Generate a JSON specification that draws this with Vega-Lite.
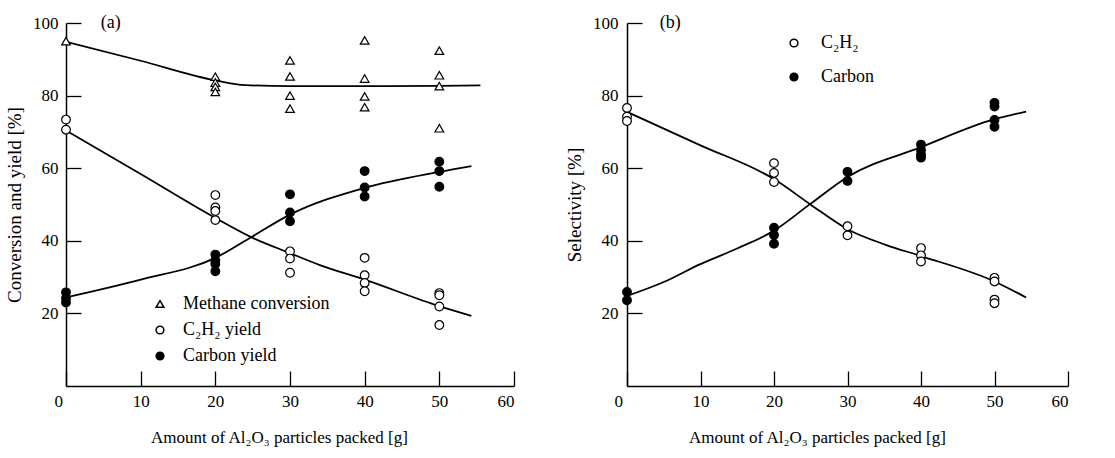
{
  "$schema": "https://vega.github.io/schema/vega-lite/v6.json",
  "background": "white",
  "padding": {"left": 5, "top": 14, "right": 5, "bottom": 5},
  "spacing": 50,
  "config": {
    "view": {"stroke": null},
    "font": "Liberation Serif",
    "axis": {
      "grid": false,
      "domainColor": "black",
      "domainWidth": 1.5,
      "tickColor": "black",
      "tickWidth": 1.3,
      "labelColor": "black",
      "titleColor": "black",
      "labelFont": "Liberation Serif",
      "titleFont": "Liberation Serif",
      "labelFontSize": 17,
      "titleFontSize": 17,
      "titleFontWeight": "normal"
    },
    "legend": {
      "labelFont": "Liberation Serif",
      "labelFontSize": 18,
      "labelColor": "black"
    }
  },
  "datasets": {
    "pointsA": [
      {"x": 0, "y": 95.0, "series": "Methane conversion"},
      {"x": 20, "y": 85.2, "series": "Methane conversion"},
      {"x": 20, "y": 83.6, "series": "Methane conversion"},
      {"x": 20, "y": 82.4, "series": "Methane conversion"},
      {"x": 20, "y": 81.0, "series": "Methane conversion"},
      {"x": 30, "y": 89.7, "series": "Methane conversion"},
      {"x": 30, "y": 85.3, "series": "Methane conversion"},
      {"x": 30, "y": 80.0, "series": "Methane conversion"},
      {"x": 30, "y": 76.4, "series": "Methane conversion"},
      {"x": 40, "y": 95.2, "series": "Methane conversion"},
      {"x": 40, "y": 84.7, "series": "Methane conversion"},
      {"x": 40, "y": 79.8, "series": "Methane conversion"},
      {"x": 40, "y": 76.8, "series": "Methane conversion"},
      {"x": 50, "y": 92.4, "series": "Methane conversion"},
      {"x": 50, "y": 85.6, "series": "Methane conversion"},
      {"x": 50, "y": 82.6, "series": "Methane conversion"},
      {"x": 50, "y": 71.0, "series": "Methane conversion"},
      {"x": 0, "y": 73.4, "series": "C₂H₂ yield"},
      {"x": 0, "y": 70.6, "series": "C₂H₂ yield"},
      {"x": 20, "y": 52.6, "series": "C₂H₂ yield"},
      {"x": 20, "y": 49.2, "series": "C₂H₂ yield"},
      {"x": 20, "y": 48.2, "series": "C₂H₂ yield"},
      {"x": 20, "y": 45.7, "series": "C₂H₂ yield"},
      {"x": 30, "y": 37.1, "series": "C₂H₂ yield"},
      {"x": 30, "y": 35.1, "series": "C₂H₂ yield"},
      {"x": 30, "y": 31.2, "series": "C₂H₂ yield"},
      {"x": 40, "y": 35.3, "series": "C₂H₂ yield"},
      {"x": 40, "y": 30.5, "series": "C₂H₂ yield"},
      {"x": 40, "y": 28.4, "series": "C₂H₂ yield"},
      {"x": 40, "y": 26.1, "series": "C₂H₂ yield"},
      {"x": 50, "y": 25.6, "series": "C₂H₂ yield"},
      {"x": 50, "y": 25.0, "series": "C₂H₂ yield"},
      {"x": 50, "y": 21.9, "series": "C₂H₂ yield"},
      {"x": 50, "y": 16.8, "series": "C₂H₂ yield"},
      {"x": 0, "y": 25.8, "series": "Carbon yield"},
      {"x": 0, "y": 24.2, "series": "Carbon yield"},
      {"x": 0, "y": 23.0, "series": "Carbon yield"},
      {"x": 20, "y": 36.2, "series": "Carbon yield"},
      {"x": 20, "y": 34.6, "series": "Carbon yield"},
      {"x": 20, "y": 33.6, "series": "Carbon yield"},
      {"x": 20, "y": 31.6, "series": "Carbon yield"},
      {"x": 30, "y": 52.8, "series": "Carbon yield"},
      {"x": 30, "y": 47.8, "series": "Carbon yield"},
      {"x": 30, "y": 45.4, "series": "Carbon yield"},
      {"x": 40, "y": 59.2, "series": "Carbon yield"},
      {"x": 40, "y": 54.7, "series": "Carbon yield"},
      {"x": 40, "y": 52.2, "series": "Carbon yield"},
      {"x": 50, "y": 61.8, "series": "Carbon yield"},
      {"x": 50, "y": 59.2, "series": "Carbon yield"},
      {"x": 50, "y": 54.9, "series": "Carbon yield"}
    ],
    "curvesA": [
      {"x": 0, "y": 94.8, "curve": "m"},
      {"x": 10, "y": 89.6, "curve": "m"},
      {"x": 20, "y": 84.2, "curve": "m"},
      {"x": 24, "y": 82.9, "curve": "m"},
      {"x": 30, "y": 82.6, "curve": "m"},
      {"x": 40, "y": 82.6, "curve": "m"},
      {"x": 50, "y": 82.7, "curve": "m"},
      {"x": 55.5, "y": 82.8, "curve": "m"},
      {"x": 0, "y": 70.4, "curve": "c"},
      {"x": 10, "y": 58.4, "curve": "c"},
      {"x": 20, "y": 46.3, "curve": "c"},
      {"x": 24.8, "y": 41.0, "curve": "c"},
      {"x": 30, "y": 36.6, "curve": "c"},
      {"x": 34, "y": 33.3, "curve": "c"},
      {"x": 40, "y": 29.3, "curve": "c"},
      {"x": 50, "y": 22.0, "curve": "c"},
      {"x": 54.3, "y": 19.3, "curve": "c"},
      {"x": 0, "y": 24.4, "curve": "k"},
      {"x": 10, "y": 29.3, "curve": "k"},
      {"x": 20, "y": 35.3, "curve": "k"},
      {"x": 24.8, "y": 41.0, "curve": "k"},
      {"x": 30, "y": 47.2, "curve": "k"},
      {"x": 40, "y": 54.6, "curve": "k"},
      {"x": 50, "y": 59.0, "curve": "k"},
      {"x": 54.3, "y": 60.6, "curve": "k"}
    ],
    "pointsB": [
      {"x": 0, "y": 76.6, "series": "C₂H₂"},
      {"x": 0, "y": 74.2, "series": "C₂H₂"},
      {"x": 0, "y": 73.0, "series": "C₂H₂"},
      {"x": 20, "y": 61.4, "series": "C₂H₂"},
      {"x": 20, "y": 58.7, "series": "C₂H₂"},
      {"x": 20, "y": 56.2, "series": "C₂H₂"},
      {"x": 30, "y": 44.0, "series": "C₂H₂"},
      {"x": 30, "y": 41.5, "series": "C₂H₂"},
      {"x": 40, "y": 38.0, "series": "C₂H₂"},
      {"x": 40, "y": 36.0, "series": "C₂H₂"},
      {"x": 40, "y": 34.3, "series": "C₂H₂"},
      {"x": 50, "y": 29.8, "series": "C₂H₂"},
      {"x": 50, "y": 28.8, "series": "C₂H₂"},
      {"x": 50, "y": 23.8, "series": "C₂H₂"},
      {"x": 50, "y": 22.8, "series": "C₂H₂"},
      {"x": 0, "y": 25.9, "series": "Carbon"},
      {"x": 0, "y": 23.6, "series": "Carbon"},
      {"x": 20, "y": 43.6, "series": "Carbon"},
      {"x": 20, "y": 41.6, "series": "Carbon"},
      {"x": 20, "y": 39.2, "series": "Carbon"},
      {"x": 30, "y": 59.0, "series": "Carbon"},
      {"x": 30, "y": 56.5, "series": "Carbon"},
      {"x": 40, "y": 66.5, "series": "Carbon"},
      {"x": 40, "y": 65.0, "series": "Carbon"},
      {"x": 40, "y": 63.8, "series": "Carbon"},
      {"x": 40, "y": 62.9, "series": "Carbon"},
      {"x": 50, "y": 78.0, "series": "Carbon"},
      {"x": 50, "y": 77.0, "series": "Carbon"},
      {"x": 50, "y": 73.3, "series": "Carbon"},
      {"x": 50, "y": 71.4, "series": "Carbon"}
    ],
    "curvesB": [
      {"x": 0, "y": 75.5, "curve": "c"},
      {"x": 10, "y": 66.3, "curve": "c"},
      {"x": 20, "y": 57.0, "curve": "c"},
      {"x": 24.9, "y": 50.1, "curve": "c"},
      {"x": 30, "y": 43.2, "curve": "c"},
      {"x": 35.2, "y": 38.9, "curve": "c"},
      {"x": 40, "y": 35.8, "curve": "c"},
      {"x": 50, "y": 28.8, "curve": "c"},
      {"x": 54.3, "y": 24.4, "curve": "c"},
      {"x": 0, "y": 24.8, "curve": "k"},
      {"x": 5.4, "y": 29.0, "curve": "k"},
      {"x": 9.9, "y": 33.5, "curve": "k"},
      {"x": 14.9, "y": 37.8, "curve": "k"},
      {"x": 20, "y": 42.8, "curve": "k"},
      {"x": 24.9, "y": 50.1, "curve": "k"},
      {"x": 30, "y": 57.6, "curve": "k"},
      {"x": 40, "y": 65.8, "curve": "k"},
      {"x": 50, "y": 73.5, "curve": "k"},
      {"x": 54.3, "y": 75.6, "curve": "k"}
    ],
    "labelA": [{"x": 6.0, "y": 100, "label": "(a)"}],
    "labelB": [{"x": 5.9, "y": 100, "label": "(b)"}]
  },
  "resolve": {
    "scale": {"shape": "independent", "fill": "independent", "x": "independent", "y": "independent"},
    "legend": {"shape": "independent", "fill": "independent"}
  },
  "hconcat": [
    {
      "width": 448,
      "height": 363,
      "layer": [
        {
          "data": {"name": "curvesA"},
          "mark": {"type": "line", "color": "black", "strokeWidth": 1.8, "interpolate": "monotone"},
          "encoding": {
            "x": {"field": "x", "type": "quantitative", "scale": {"domain": [0, 60]},
              "axis": {"values": [0, 10, 20, 30, 40, 50, 60], "tickSize": -15, "labelPadding": 22, "labelOffset": {"condition": {"test": "datum.value == 0", "value": -12}, "value": 0}, "title": "Amount of Al₂O₃ particles packed [g]", "titlePadding": 20, "titleX": 213}},
            "y": {"field": "y", "type": "quantitative", "scale": {"domain": [0, 100]},
              "axis": {"values": [20, 40, 60, 80, 100], "tickSize": -15, "labelPadding": 23, "title": "Conversion and yield [%]", "titlePadding": 8, "titleFontSize": 19}},
            "detail": {"field": "curve"}
          }
        },
        {
          "data": {"name": "pointsA"},
          "mark": {"type": "point", "filled": true, "stroke": "black", "strokeWidth": 1.2, "size": 75, "opacity": 1},
          "encoding": {
            "x": {"field": "x", "type": "quantitative"},
            "y": {"field": "y", "type": "quantitative"},
            "shape": {"field": "series", "type": "nominal",
              "scale": {"domain": ["Methane conversion", "C₂H₂ yield", "Carbon yield"], "range": ["triangle-up", "circle", "circle"]},
              "legend": {"title": null, "orient": "none", "legendX": 85, "legendY": 272, "symbolSize": 60, "rowPadding": 8, "labelOffset": 14,
                "encode": {"symbols": {"update": {"stroke": {"value": "black"}, "strokeWidth": {"value": 1.2}, "opacity": {"value": 1}}}}}},
            "fill": {"field": "series", "type": "nominal",
              "scale": {"domain": ["Methane conversion", "C₂H₂ yield", "Carbon yield"], "range": ["white", "white", "black"]},
              "legend": {"title": null, "orient": "none", "legendX": 85, "legendY": 272, "symbolSize": 60, "rowPadding": 8, "labelOffset": 14,
                "encode": {"symbols": {"update": {"stroke": {"value": "black"}, "strokeWidth": {"value": 1.2}, "opacity": {"value": 1}}}}}}
          }
        },
        {
          "data": {"name": "labelA"},
          "mark": {"type": "text", "font": "Liberation Serif", "fontSize": 18, "color": "black", "align": "center", "baseline": "middle"},
          "encoding": {
            "x": {"field": "x", "type": "quantitative"},
            "y": {"field": "y", "type": "quantitative"},
            "text": {"field": "label"}
          }
        }
      ]
    },
    {
      "width": 441,
      "height": 363,
      "layer": [
        {
          "data": {"name": "curvesB"},
          "mark": {"type": "line", "color": "black", "strokeWidth": 1.8, "interpolate": "monotone"},
          "encoding": {
            "x": {"field": "x", "type": "quantitative", "scale": {"domain": [0, 60]},
              "axis": {"values": [0, 10, 20, 30, 40, 50, 60], "tickSize": -15, "labelPadding": 22, "labelOffset": {"condition": {"test": "datum.value == 0", "value": -13}, "value": 0}, "title": "Amount of Al₂O₃ particles packed [g]", "titlePadding": 20, "titleX": 190}},
            "y": {"field": "y", "type": "quantitative", "scale": {"domain": [0, 100]},
              "axis": {"values": [20, 40, 60, 80, 100], "tickSize": -15, "labelPadding": 24, "title": "Selectivity [%]", "titlePadding": 8, "titleFontSize": 19}},
            "detail": {"field": "curve"}
          }
        },
        {
          "data": {"name": "pointsB"},
          "mark": {"type": "point", "filled": true, "stroke": "black", "strokeWidth": 1.2, "size": 75, "opacity": 1},
          "encoding": {
            "x": {"field": "x", "type": "quantitative"},
            "y": {"field": "y", "type": "quantitative"},
            "shape": {"field": "series", "type": "nominal",
              "scale": {"domain": ["C₂H₂", "Carbon"], "range": ["circle", "circle"]},
              "legend": {"title": null, "orient": "none", "legendX": 158, "legendY": 11, "symbolSize": 60, "rowPadding": 16, "labelOffset": 18,
                "encode": {"symbols": {"update": {"stroke": {"value": "black"}, "strokeWidth": {"value": 1.2}, "opacity": {"value": 1}}}}}},
            "fill": {"field": "series", "type": "nominal",
              "scale": {"domain": ["C₂H₂", "Carbon"], "range": ["white", "black"]},
              "legend": {"title": null, "orient": "none", "legendX": 158, "legendY": 11, "symbolSize": 60, "rowPadding": 16, "labelOffset": 18,
                "encode": {"symbols": {"update": {"stroke": {"value": "black"}, "strokeWidth": {"value": 1.2}, "opacity": {"value": 1}}}}}}
          }
        },
        {
          "data": {"name": "labelB"},
          "mark": {"type": "text", "font": "Liberation Serif", "fontSize": 18, "color": "black", "align": "center", "baseline": "middle"},
          "encoding": {
            "x": {"field": "x", "type": "quantitative"},
            "y": {"field": "y", "type": "quantitative"},
            "text": {"field": "label"}
          }
        }
      ]
    }
  ]
}
